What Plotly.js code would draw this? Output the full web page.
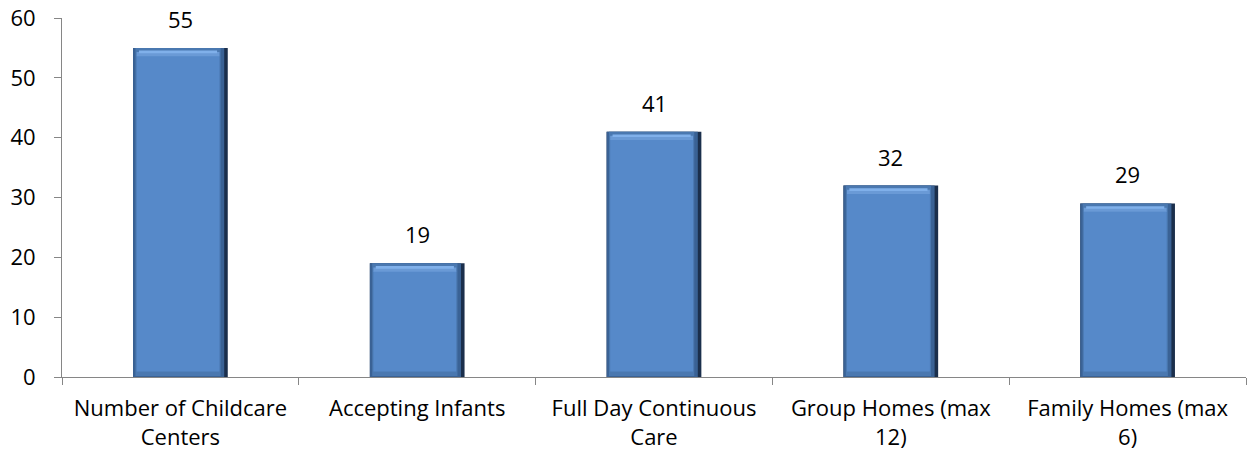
<!DOCTYPE html>
<html><head><meta charset="utf-8">
<script src="https://cdn.plot.ly/plotly-3.0.1.min.js"></script>
<style>html,body{margin:0;padding:0;background:#fff}#c{width:1254px;height:457px}</style>
</head><body><div id="c"></div>
<script>
const categories = ["Number of Childcare<br>Centers", "Accepting Infants", "Full Day Continuous<br>Care", "Group Homes (max<br>12)", "Family Homes (max<br>6)"];
const values = [55, 19, 41, 32, 29];

const FONT = "'Open Sans', 'Noto Sans', sans-serif";
const FS = 22;

function layer(w, off, color, yfn, basefn) {
  return {
    type: 'bar', x: categories, y: values.map(yfn), base: basefn ? values.map(basefn) : undefined,
    width: w, offset: off, marker: {color: color, line: {width: 0}},
    hoverinfo: 'skip', showlegend: false
  };
}

const traces = [
  layer(0.40, -0.20, '#1b2f4c', v => v),
  layer(0.385, -0.20, '#3a6295', v => v),
  layer(0.36, -0.19, '#4a78b0', v => v - 0.15, v => 0.15),
  layer(0.35, -0.185, '#5689c9', v => v - 2.2, v => 0.9),
  layer(0.35, -0.185, '#6a9ad6', v => 0.7, v => v - 1.4),
  layer(0.33, -0.175, '#80b0ea', v => 0.45, v => v - 0.9)
];

const annotations = values.map((v, i) => ({
  x: categories[i], y: v, text: String(v), showarrow: false, yanchor: 'bottom', yshift: 12,
  font: {family: FONT, size: FS, color: '#000'}
}));

const layout = {
  width: 1254, height: 457,
  margin: {l: 62, r: 8, t: 18, b: 80},
  paper_bgcolor: '#fff', plot_bgcolor: '#fff',
  barmode: 'overlay',
  font: {family: FONT, size: FS, color: '#000'},
  xaxis: {
    type: 'category', categoryorder: 'array', categoryarray: categories,
    range: [-0.5, 4.5], showline: true, linecolor: '#868686', linewidth: 1,
    ticks: 'outside', tickson: 'boundaries', ticklen: 7, tickcolor: '#868686',
    showgrid: false, zeroline: false, fixedrange: true, ticklabelstandoff: 12,
    tickfont: {family: FONT, size: FS, color: '#000'}
  },
  yaxis: {
    range: [0, 60], dtick: 10, tick0: 0, showline: true, linecolor: '#868686', linewidth: 1,
    ticks: 'outside', ticklen: 7, tickcolor: '#868686', showgrid: false, zeroline: false,
    ticklabelstandoff: 14, fixedrange: true,
    tickfont: {family: FONT, size: FS, color: '#000'}
  },
  annotations: annotations
};

Plotly.newPlot('c', traces, layout, {displayModeBar: false, staticPlot: true});
</script>
</body></html>
